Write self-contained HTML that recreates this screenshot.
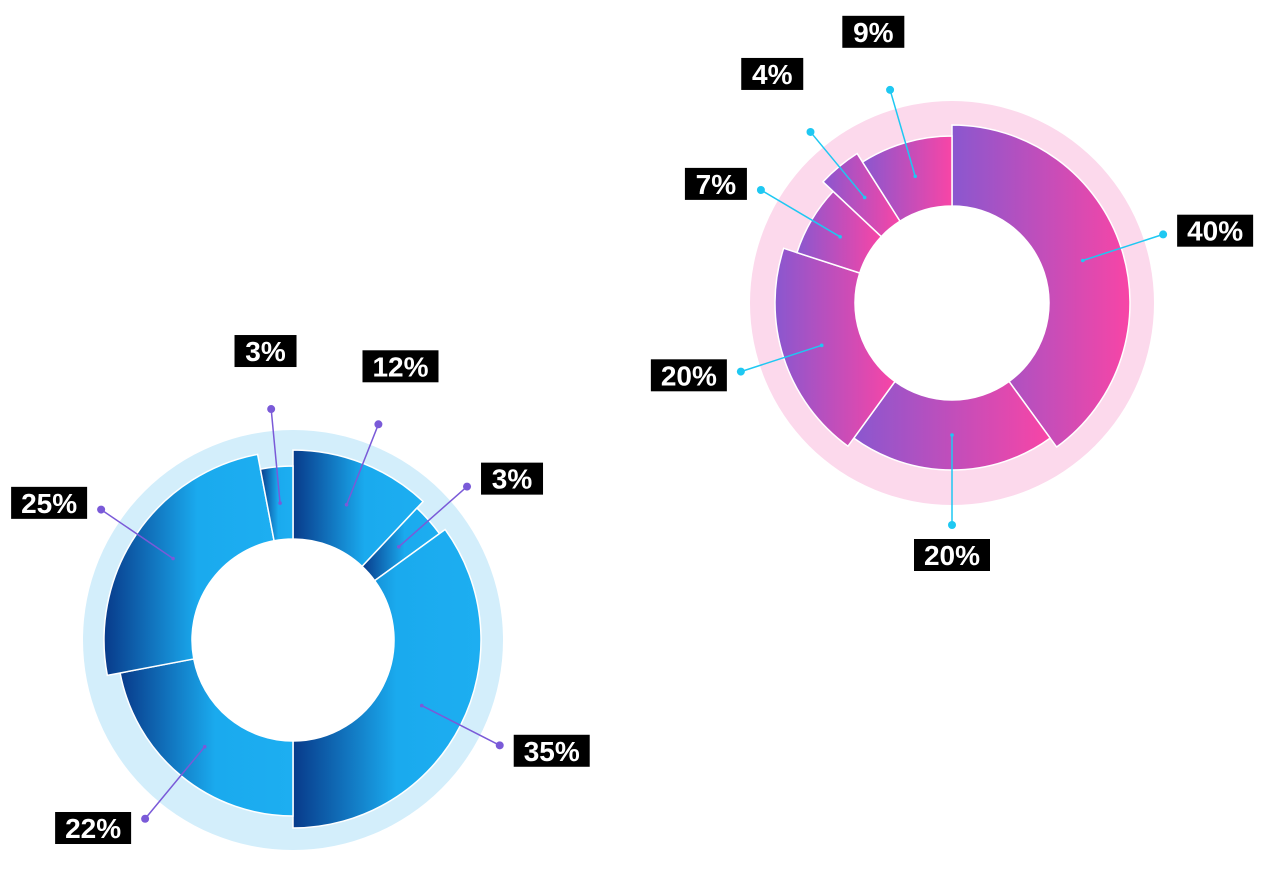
<!DOCTYPE html>
<html><head><meta charset="utf-8">
<style>
html,body{margin:0;padding:0;background:#fff;}
svg{display:block;}
text{font-family:"Liberation Sans",sans-serif;font-weight:bold;}
</style></head>
<body>
<svg id="chart" width="1280" height="888" viewBox="0 0 1280 888" xmlns="http://www.w3.org/2000/svg">
<defs>
<linearGradient id="gBlue" x1="0" y1="0" x2="1" y2="0">
<stop offset="0" stop-color="#083a8a"/><stop offset="0.55" stop-color="#1aaaee"/><stop offset="1" stop-color="#1daef1"/>
</linearGradient>
<linearGradient id="gPink" x1="0" y1="0" x2="1" y2="0">
<stop offset="0" stop-color="#8a57cf"/><stop offset="1" stop-color="#f845a6"/>
</linearGradient>
</defs>
</svg>
<script>
// Left chart data
const leftValues = [12, 3, 35, 22, 25, 3];
const leftLabels = ["12%", "3%", "35%", "22%", "25%", "3%"];
const leftRadii = [190, 181, 188, 176, 189, 174];
// Right chart data
const rightValues = [40, 20, 20, 7, 4, 9];
const rightLabels = ["40%", "20%", "20%", "7%", "4%", "9%"];
const rightRadii = [178, 167, 177, 163, 177, 167];

const NS = "http://www.w3.org/2000/svg";
const svg = document.getElementById("chart");
function mk(tag, attrs, parent){
  const e = document.createElementNS(NS, tag);
  for (const k in attrs) e.setAttribute(k, attrs[k]);
  (parent||svg).appendChild(e);
  return e;
}
function pt(cx, cy, r, a){
  const t = a*Math.PI/180;
  return [cx + r*Math.sin(t), cy - r*Math.cos(t)];
}
function drawDonut(cfg){
  const g = mk("g", {});
  
  
  const bg = mk("circle", {cx:cfg.cx, cy:cfg.cy, r:cfg.bgR, fill:cfg.bg}, g);
  
  
  const total = cfg.values.reduce((a,b)=>a+b,0);
  let start = 0;
  cfg.values.forEach((v,i)=>{
    const sweep = v/total*360;
    const end = start + sweep;
    const ro = cfg.radii[i], ri = cfg.inner;
    const p1 = pt(cfg.cx,cfg.cy,ro,start), p2 = pt(cfg.cx,cfg.cy,ro,end);
    const p3 = pt(cfg.cx,cfg.cy,ri,end), p4 = pt(cfg.cx,cfg.cy,ri,start);
    const large = sweep > 180 ? 1 : 0;
    const d = `M${p1[0]},${p1[1]} A${ro},${ro} 0 ${large} 1 ${p2[0]},${p2[1]} L${p3[0]},${p3[1]} A${ri},${ri} 0 ${large} 0 ${p4[0]},${p4[1]} Z`;
    const seg = mk("path", {d:d, fill:cfg.grad, stroke:"#fff", "stroke-width":1.5}, g);
    
    
    const mid = start + sweep/2;
    const a = pt(cfg.cx,cfg.cy,(ri+ro)/2,mid);
    const b = pt(cfg.cx,cfg.cy,cfg.leadR,mid);
    const ln = mk("line", {x1:a[0],y1:a[1],x2:b[0],y2:b[1],stroke:cfg.lc,"stroke-width":1.5}, g);
    
    
    const d1 = mk("circle", {cx:a[0],cy:a[1],r:1.8,fill:cfg.lc}, g);
    
    
    const d2 = mk("circle", {cx:b[0],cy:b[1],r:4,fill:cfg.lc}, g);
    
    
    const w = cfg.labels[i].length > 2 ? 76 : 62, h = 32;
    const dx = Math.sin(mid*Math.PI/180), dy = -Math.cos(mid*Math.PI/180);
    let lx = b[0], ly = b[1];
    if (dy < -0.75) { lx += dx*60; ly -= 58; }
    else if (Math.abs(dx) > 0.45) { lx += Math.sign(dx)*(w/2+14); ly += dy*12; }
    else { lx += dx*30; ly += Math.sign(dy)*(h/2+14); }
    ly = Math.max(h/2, ly);
    const lab = mk("g", {}, g);
    
    
    mk("rect", {x:lx-w/2, y:ly-h/2, width:w, height:h, fill:"#000"}, lab);
    const t = mk("text", {x:lx, y:ly+10, "text-anchor":"middle", fill:"#fff", "font-size":28}, lab);
    t.textContent = cfg.labels[i];
    start = end;
  });
  const hole = mk("circle", {cx:cfg.cx, cy:cfg.cy, r:cfg.inner, fill:"#fff"}, g);
  
  
}
drawDonut({name:"blue-donut-chart", cx:293, cy:640, bgR:210, inner:101, bg:"#d3eefb", grad:"url(#gBlue)", lc:"#7a5ad8",
  values:leftValues, labels:leftLabels, radii:leftRadii, leadR:232});
drawDonut({name:"pink-donut-chart", cx:952, cy:303, bgR:202, inner:97, bg:"#fcd9ec", grad:"url(#gPink)", lc:"#1ec8f2",
  values:rightValues, labels:rightLabels, radii:rightRadii, leadR:222});
</script>
</body></html>
